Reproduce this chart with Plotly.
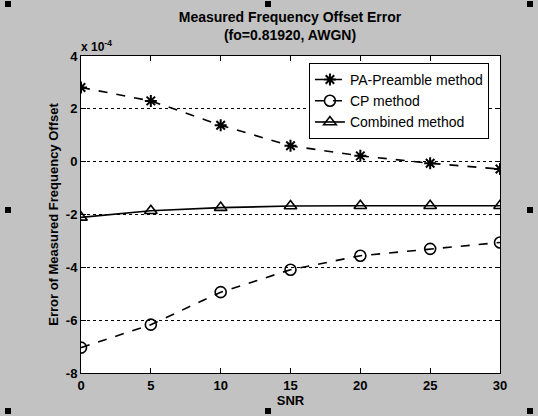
import plotly.graph_objects as go

snr = [0, 5, 10, 15, 20, 25, 30]
pa_preamble = [2.81, 2.30, 1.38, 0.60, 0.22, -0.06, -0.28]
cp_method = [-7.04, -6.17, -4.94, -4.09, -3.56, -3.30, -3.06]
combined = [-2.11, -1.86, -1.74, -1.68, -1.67, -1.67, -1.67]
x_ticks = [0, 5, 10, 15, 20, 25, 30]
y_ticks = [-8, -6, -4, -2, 0, 2, 4]

FONT = "Liberation Sans, Arial, sans-serif"

fig = go.Figure()
fig.add_trace(go.Scatter(x=snr, y=pa_preamble, mode="lines+markers", name="PA-Preamble method",
                         line=dict(color="black", width=1.6, dash="dash"),
                         marker=dict(symbol="asterisk-open", size=10, color="black", line=dict(width=2, color="black"))))
fig.add_trace(go.Scatter(x=snr, y=cp_method, mode="lines+markers", name="CP method",
                         line=dict(color="black", width=1.6, dash="dash"),
                         marker=dict(symbol="circle-open", size=11, color="black", line=dict(width=1.6, color="black"))))
fig.add_trace(go.Scatter(x=snr, y=combined, mode="lines+markers", name="Combined method",
                         line=dict(color="black", width=1.6),
                         marker=dict(symbol="triangle-up-open", size=11, color="black", line=dict(width=1.6, color="black"))))

fig.update_layout(
    width=538, height=416,
    margin=dict(l=81, r=38, t=56, b=43),
    paper_bgcolor="#c2c2c2",
    plot_bgcolor="white",
    font=dict(family=FONT, color="black", size=12),
    showlegend=True,
    legend=dict(x=0.544, y=0.978, xanchor="left", yanchor="top",
                bgcolor="white", bordercolor="black", borderwidth=1,
                font=dict(size=14, family=FONT), tracegroupgap=0, itemwidth=30),
    title=dict(text="<b>Measured Frequency Offset Error<br>(fo=0.81920, AWGN)</b>",
               x=290 / 538, xanchor="center", yref="container", y=1 - 22 / 416, yanchor="top",
               font=dict(size=14, family=FONT)),
)
fig.update_xaxes(range=[0, 30], tickvals=x_ticks, ticktext=[f"<b>{v}</b>" for v in x_ticks],
                 showgrid=False, zeroline=False, showline=True, linecolor="black", linewidth=1,
                 mirror="ticks", ticks="inside", ticklen=5, tickcolor="black",
                 tickfont=dict(size=13, family=FONT),
                 title=dict(text="<b>SNR</b>", standoff=2, font=dict(size=13, family=FONT)))
fig.update_yaxes(range=[-8, 4], tickvals=y_ticks, ticktext=[f"<b>{v}</b>" for v in y_ticks],
                 showgrid=True, gridcolor="black", griddash="dot", gridwidth=1,
                 zeroline=False, showline=True, linecolor="black", linewidth=1,
                 mirror="ticks", ticks="inside", ticklen=5, tickcolor="black",
                 tickfont=dict(size=13, family=FONT),
                 title=dict(text="<b>Error of Measured Frequency Offset</b>", standoff=4,
                            font=dict(size=13, family=FONT)))

fig.add_annotation(text="<b>x 10<sup>-4</sup></b>", xref="paper", yref="paper",
                   x=0, y=1, xanchor="left", yanchor="bottom", showarrow=False,
                   font=dict(size=12, family=FONT), xshift=-2, yshift=0)

# selection handles
for hx, hy in [(8, 4), (268, 4), (530, 4), (8, 210), (530, 210), (8, 411), (268, 411), (530, 411)]:
    fig.add_shape(type="rect", xref="paper", yref="paper",
                  x0=(hx - 3 - 81) / 419, x1=(hx + 3 - 81) / 419,
                  y0=(373 - hy - 3) / 317, y1=(373 - hy + 3) / 317,
                  fillcolor="black", line=dict(width=0))

fig.write_html("out.html", config={"displayModeBar": False},
               post_script="document.body.style.margin='0';document.body.style.overflow='hidden';")
